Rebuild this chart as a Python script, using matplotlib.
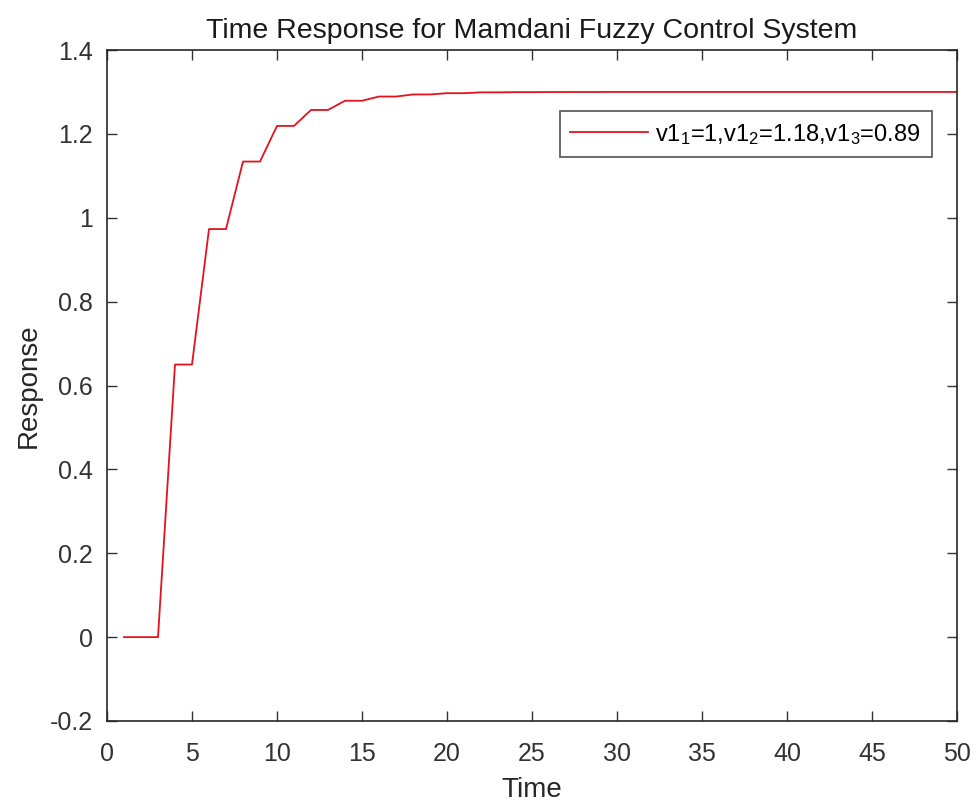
import matplotlib
matplotlib.use("Agg")
import matplotlib.pyplot as plt
from matplotlib.ticker import FuncFormatter

time = list(range(1, 51))
response = [0, 0, 0, 0.65, 0.65, 0.973, 0.973, 1.134, 1.134, 1.219,
            1.219, 1.257, 1.257, 1.279, 1.279, 1.289, 1.289, 1.294, 1.294, 1.297,
            1.297, 1.299, 1.299, 1.2995, 1.2995, 1.2998, 1.2998, 1.2999, 1.2999, 1.3,
            1.3, 1.3, 1.3, 1.3, 1.3, 1.3, 1.3, 1.3, 1.3, 1.3,
            1.3, 1.3, 1.3, 1.3, 1.3, 1.3, 1.3, 1.3, 1.3, 1.3]
legend_label = r"v1$_1$=1,v1$_2$=1.18,v1$_3$=0.89"
x_ticks = [0, 5, 10, 15, 20, 25, 30, 35, 40, 45, 50]
y_ticks = [-0.2, 0, 0.2, 0.4, 0.6, 0.8, 1.0, 1.2, 1.4]

plt.rcParams['font.family'] = ['Liberation Sans', 'DejaVu Sans']
plt.rcParams['mathtext.default'] = 'regular'

fig = plt.figure(figsize=(9.74, 8.01), dpi=100)
ax = fig.add_axes([107/974, 1 - 721/801, (957-107)/974, (721-50)/801])

ax.plot(time, response, color='#e3121c', lw=1.3, label=legend_label)

ax.set_xlim(0, 50)
ax.set_ylim(-0.2, 1.4)
ax.set_xticks(x_ticks)
ax.set_yticks(y_ticks)
ax.yaxis.set_major_formatter(FuncFormatter(lambda v, p: ('%g' % round(v, 2))))
ax.tick_params(direction='in', top=True, right=True, length=7, width=1,
               colors='#333333', labelsize=18)
ax.tick_params(axis='x', pad=15)
ax.tick_params(axis='y', pad=10)
for s in ax.spines.values():
    s.set_color('#262626')
    s.set_linewidth(1.2)

ax.set_title('Time Response for Mamdani Fuzzy Control System', fontsize=20.5,
             color='#1a1a1a', pad=9)
ax.set_xlabel('Time', fontsize=20, color='#262626', labelpad=8)
ax.set_ylabel('Response', fontsize=20, color='#262626', labelpad=6)

leg = ax.legend(loc='upper right', bbox_to_anchor=(0.984, 0.9265), fontsize=17,
                frameon=True, fancybox=False, edgecolor='#262626',
                handlelength=3.3, borderpad=0.45, handletextpad=0.3)
leg.get_frame().set_linewidth(1.2)

fig.savefig('out.png', dpi=100, facecolor='white')
